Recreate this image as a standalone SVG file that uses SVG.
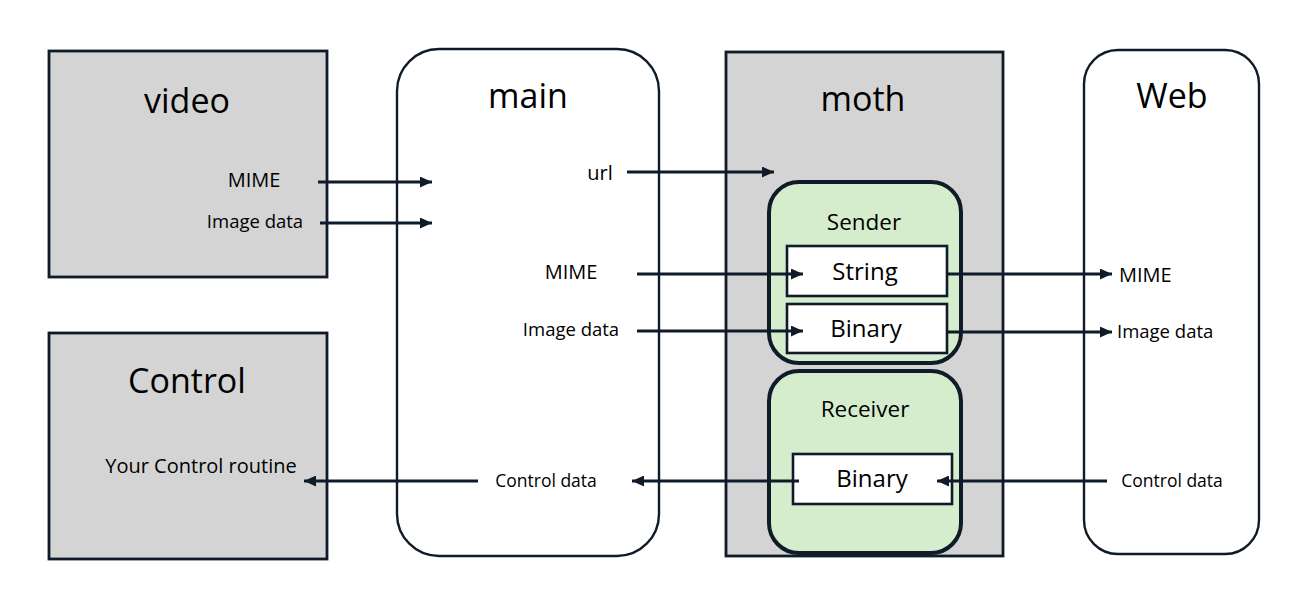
<svg xmlns="http://www.w3.org/2000/svg" width="1306" height="601" viewBox="0 0 1306 601">
<style>
text{font-family:"Open Sans","Noto Sans","Liberation Sans",sans-serif;fill:#000}
.title{font-size:34px;text-anchor:middle}
.lbl{font-size:20px}
.sm{font-size:18.5px}
.cd{font-size:17.5px}
.mid{text-anchor:middle}
.gray{fill:#d4d4d4;stroke:#0f1b28;stroke-width:2.8}
.white{fill:#fff;stroke:#0f1b28;stroke-width:2.4}
.green{fill:#d5edcd;stroke:#0f1b28;stroke-width:4}
.inner{fill:#fff;stroke:#0f1b28;stroke-width:2.6}
.conn line{stroke:#0f1b28;stroke-width:2.8;marker-end:url(#ah)}
.box{font-size:24px;text-anchor:middle}
</style>
<defs>
<marker id="ah" markerUnits="userSpaceOnUse" markerWidth="13" markerHeight="11" refX="12" refY="5.5" orient="auto">
<path d="M0,0 L12,5.5 L0,11 Z" fill="#0f1b28"/>
</marker>
</defs>
<rect width="1306" height="601" fill="#fff"/>
<g id="video">
<rect class="gray" x="49" y="51" width="278" height="226"/>
<text class="title" x="187" y="113">video</text>
<text class="lbl mid" x="254" y="187">MIME</text>
<text class="sm mid" x="255" y="228">Image data</text>
</g>
<g id="control">
<rect class="gray" x="49" y="333" width="278" height="226"/>
<text class="title" x="187" y="393">Control</text>
<text class="lbl mid" x="201" y="473">Your Control routine</text>
</g>
<g id="main">
<rect class="white" x="397" y="49" width="262" height="507" rx="42" ry="42"/>
<text class="title" x="528" y="108">main</text>
<text class="lbl mid" x="600" y="180">url</text>
<text class="lbl mid" x="571" y="279">MIME</text>
<text class="sm mid" x="571" y="336">Image data</text>
<text class="cd mid" x="546" y="487">Control data</text>
</g>
<g id="moth">
<rect class="gray" x="726" y="52" width="277" height="504"/>
<text class="title" x="863" y="111">moth</text>
</g>
<g id="sender">
<rect class="green" x="769" y="182" width="192" height="181" rx="30" ry="30"/>
<text class="box" x="864" y="230" style="font-size:22.5px">Sender</text>
</g>
<g id="sender-string">
<rect class="inner" x="787" y="246" width="160" height="50"/>
<text class="box" x="865" y="280">String</text>
</g>
<g id="sender-binary">
<rect class="inner" x="787" y="304" width="160" height="49"/>
<text class="box" x="866" y="337">Binary</text>
</g>
<g id="receiver">
<rect class="green" x="769" y="371" width="192" height="182" rx="30" ry="30"/>
<text class="box" x="865" y="417" style="font-size:22.5px">Receiver</text>
</g>
<g id="receiver-binary">
<rect class="inner" x="793" y="454" width="159" height="50"/>
<text class="box" x="872" y="487">Binary</text>
</g>
<g id="web">
<rect class="white" x="1084" y="50" width="175" height="504" rx="34" ry="34"/>
<text class="title" x="1172" y="108">Web</text>
<text class="lbl" x="1119" y="282">MIME</text>
<text class="sm" x="1117" y="338">Image data</text>
<text class="cd mid" x="1172" y="487">Control data</text>
</g>
<g id="connectors" class="conn">
<line x1="318" y1="182" x2="432" y2="182"/>
<line x1="320" y1="223" x2="432" y2="223"/>
<line x1="627" y1="172" x2="774" y2="172"/>
<line x1="637" y1="274" x2="803" y2="274"/>
<line x1="637" y1="331" x2="803" y2="331"/>
<line x1="947" y1="274" x2="1112" y2="274"/>
<line x1="947" y1="332" x2="1112" y2="332"/>
<line x1="1107" y1="481" x2="937" y2="481"/>
<line x1="799" y1="481" x2="632" y2="481"/>
<line x1="478" y1="481" x2="304" y2="481"/>
</g>
</svg>
